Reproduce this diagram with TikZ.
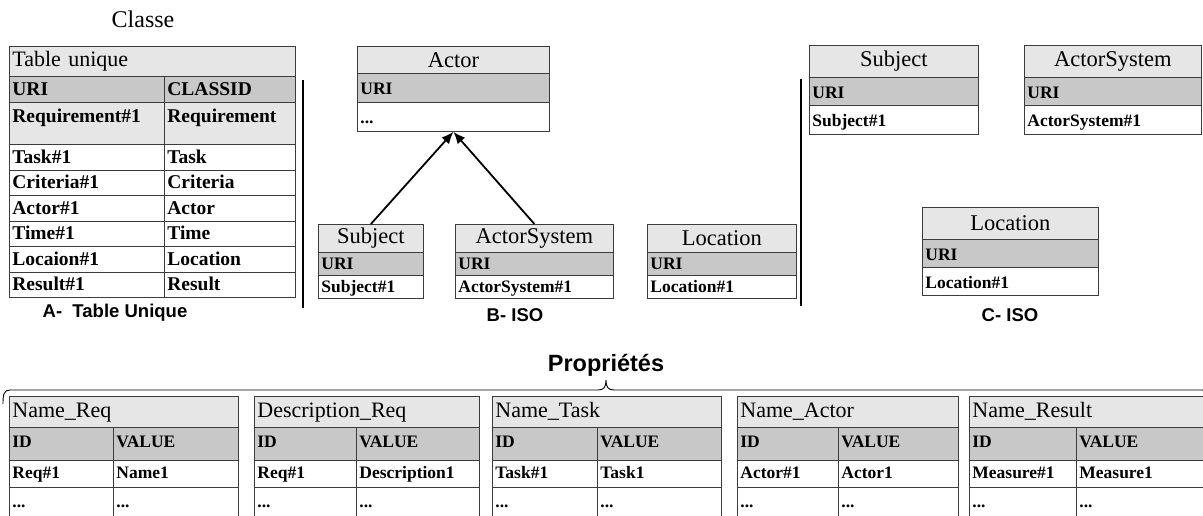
\documentclass[tikz,border=0pt]{standalone}
\usepackage{fontspec}
\setmainfont{Liberation Serif}
\setsansfont{Liberation Sans}
\usepackage{xcolor}
\usetikzlibrary{arrows, arrows.meta}
\definecolor{titlegray}{RGB}{230,230,230}
\definecolor{headgray}{RGB}{200,200,200}
\definecolor{cellline}{RGB}{60,60,60}

\newcommand{\tuttl}{\fontsize{22}{26}\selectfont}
\newcommand{\tucell}{\fontsize{19.5}{23}\selectfont\bfseries}
\newcommand{\isottl}{\fontsize{22.5}{26}\selectfont}
\newcommand{\isocell}{\fontsize{17.5}{21}\selectfont\bfseries}
\newcommand{\prttl}{\fontsize{22}{26}\selectfont}
\newcommand{\prcell}{\fontsize{17.5}{21}\selectfont\bfseries}

\tikzset{
  tcell/.style={draw=cellline, fill=titlegray, anchor=north west, inner xsep=3pt, inner ysep=0pt, line width=0.8pt},
  hcell/.style={tcell, fill=headgray},
  vcell/.style={tcell, fill=white},
  rowh/.style={text height=0.74*#1, text depth=0.26*#1},
  capt/.style={font=\sffamily\bfseries\fontsize{18.5}{22}\selectfont},
  sepline/.style={line width=1.3pt},
  arr/.style={-{Latex[length=12pt,width=10pt]}, line width=1.8pt}
}

% name, left, top, width, title h, uri h, row h, title, row
\newcommand{\isobox}[9]{%
  \pgfmathsetmacro\tw{#4-6}%
  \node[tcell, minimum width=#4pt, minimum height=#5pt, font=\isottl] (#1) at (#2,#3) {#8};
  \node[hcell, text width=\tw pt, rowh=#6pt, font=\isocell] (#1-uri) at (#2,#3+#5) {URI};
  \node[vcell, text width=\tw pt, rowh=#7pt, font=\isocell] (#1-row) at (#2,#3+#5+#6) {#9};
}

\begin{document}
\begin{tikzpicture}[x=1pt,y=-1pt]
  \useasboundingbox (0,0) rectangle (1203,515);
  \clip (0,0) rectangle (1203,515);

  % A - table unique
  \node[font=\fontsize{24}{28}\selectfont] (classe) at (143,19) {Classe};
  \node[tcell, text width=280pt, minimum height=30pt, font=\tuttl] (tu) at (9,46) {Table unique};
  \node[hcell, text width=149pt, rowh=26pt, font=\tucell] (tu-uri) at (9,76) {URI};
  \node[hcell, text width=125pt, rowh=26pt, font=\tucell] (tu-cls) at (164,76) {CLASSID};
  \node[tcell, text width=149pt, text height=20pt, text depth=22pt, font=\tucell] (tu-req) at (9,102) {Requirement\#1};
  \node[tcell, text width=125pt, text height=20pt, text depth=22pt, font=\tucell] (tu-reqc) at (164,102) {Requirement};
  \foreach \ur/\cl [count=\i] in {Task\#1/Task, Criteria\#1/Criteria, Actor\#1/Actor, Time\#1/Time, Locaion\#1/Location, Result\#1/Result}{
    \pgfmathsetmacro\yy{144+(\i-1)*25.5}
    \node[vcell, text width=149pt, rowh=25.5pt, font=\tucell] (tu-u\i) at (9,\yy) {\ur};
    \node[vcell, text width=125pt, rowh=25.5pt, font=\tucell] (tu-c\i) at (164,\yy) {\cl};
  }
  \node[capt] (capA) at (115,313) {A-\ \ Table Unique};
  \draw[sepline] (303,80) -- (303,308);

  % B - ISO
  \isobox{actB}{357}{46}{192}{27}{29}{29}{Actor}{...}
  \isobox{subjB}{318}{224}{105}{28}{23}{23}{Subject}{Subject\#1}
  \isobox{asysB}{455}{224}{158}{28}{23}{23}{ActorSystem}{ActorSystem\#1}
  \isobox{locB}{647}{224}{149}{28}{23}{23}{Location}{Location\#1}
  \draw[arr] (subjB.north) -- (actB-row.south);
  \draw[arr] (asysB.north) -- (actB-row.south);
  \node[capt] (capB) at (515,315) {B- ISO};
  \draw[sepline] (801,79) -- (801,306);

  % C - ISO
  \isobox{subjC}{809}{45}{169}{32}{28}{29}{Subject}{Subject\#1}
  \isobox{asysC}{1024}{45}{177}{32}{28}{29}{ActorSystem}{ActorSystem\#1}
  \isobox{locC}{922}{207}{176}{32}{28}{28}{Location}{Location\#1}
  \node[capt] (capC) at (1010,315) {C- ISO};

  % proprietes
  \node[capt, font=\sffamily\bfseries\fontsize{23.5}{27}\selectfont] (prop) at (606,365) {Propriétés};
  \draw[line width=0.9pt] (3,404) .. controls (3,394) and (4,390) .. (10,390) -- (598,390)
    .. controls (604,390) and (606,387) .. (606,380) .. controls (606,387) and (608,390) .. (614,390)
    -- (1202,390) .. controls (1208,390) and (1209,394) .. (1209,404);
  \foreach \nm/\lx/\bw/\dv/\ttl/\idv/\vv in {nreq/9/229/104/Name\_Req/Req\#1/Name1,
      dreq/254/225/102/Description\_Req/Req\#1/Description1,
      ntask/492/229/105/Name\_Task/Task\#1/Task1,
      nact/737/221/101/Name\_Actor/Actor\#1/Actor1,
      nres/969/240/107/Name\_Result/Measure\#1/Measure1}{
    \pgfmathsetmacro\wt{\bw-6}
    \pgfmathsetmacro\wa{\dv-6}
    \pgfmathsetmacro\wb{\bw-\dv-6}
    \node[tcell, text width=\wt pt, text height=21pt, text depth=10pt, font=\prttl] (\nm) at (\lx,396) {\ttl};
    \node[hcell, text width=\wa pt, text height=20pt, text depth=13pt, font=\prcell] (\nm-id) at (\lx,427) {ID};
    \node[hcell, text width=\wb pt, text height=20pt, text depth=13pt, font=\prcell] (\nm-val) at (\lx+\dv,427) {VALUE};
    \node[vcell, text width=\wa pt, text height=18pt, text depth=9pt, font=\prcell] (\nm-r1) at (\lx,460) {\idv};
    \node[vcell, text width=\wb pt, text height=18pt, text depth=9pt, font=\prcell] (\nm-v1) at (\lx+\dv,460) {\vv};
    \node[vcell, text width=\wa pt, text height=20pt, text depth=18pt, font=\prcell] (\nm-r2) at (\lx,487) {...};
    \node[vcell, text width=\wb pt, text height=20pt, text depth=18pt, font=\prcell] (\nm-v2) at (\lx+\dv,487) {...};
  }
\end{tikzpicture}
\end{document}
